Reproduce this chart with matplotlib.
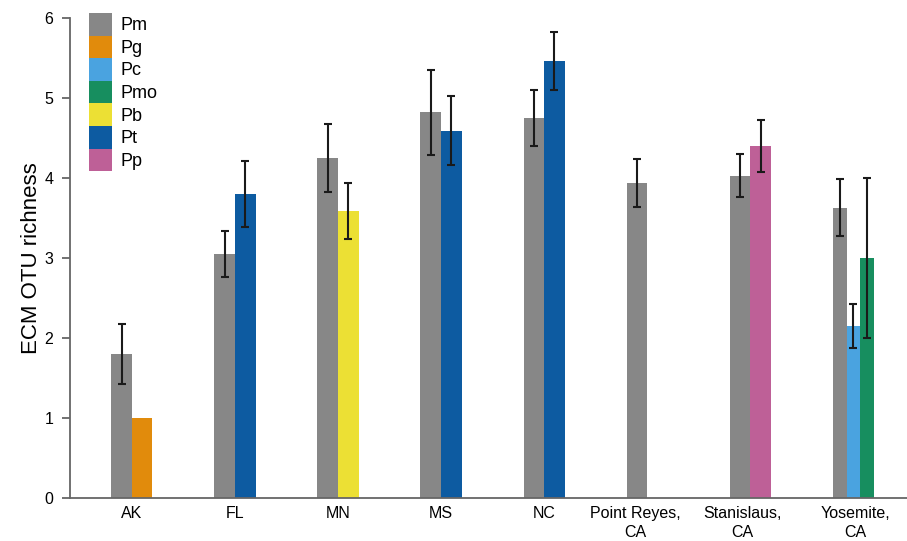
import matplotlib
matplotlib.use("Agg")
import matplotlib.pyplot as plt
from matplotlib.patches import Patch

plt.rcParams['font.family'] = ['Liberation Sans', 'DejaVu Sans']

sites = ["AK", "FL", "MN", "MS", "NC", "Point Reyes,\nCA", "Stanislaus,\nCA", "Yosemite,\nCA"]
species = ["Pm", "Pg", "Pc", "Pmo", "Pb", "Pt", "Pp"]
colors = {"Pm": "#878787", "Pg": "#E18B0C", "Pc": "#4AA3E0", "Pmo": "#178E5F",
          "Pb": "#ECE034", "Pt": "#0D5BA1", "Pp": "#BE6097"}

site_species = [["Pm", "Pg"], ["Pm", "Pt"], ["Pm", "Pb"], ["Pm", "Pt"], ["Pm", "Pt"],
                ["Pm"], ["Pm", "Pp"], ["Pm", "Pc", "Pmo"]]
site_means = [[1.80, 1.00], [3.05, 3.80], [4.25, 3.59], [4.82, 4.59], [4.75, 5.46],
              [3.94], [4.03, 4.40], [3.63, 2.15, 3.00]]
site_errs = [[0.375, None], [0.285, 0.41], [0.42, 0.35], [0.53, 0.43], [0.345, 0.36],
             [0.30], [0.265, 0.33], [0.355, 0.28, 1.00]]

# small horizontal shifts of the category labels, as in the reference
label_shift = [0, 0, 0, 0, 0, -0.12, -0.08, 0.02]

fig = plt.figure(figsize=(9.07, 5.41), dpi=100)
ax = fig.add_axes([70 / 907, 43 / 541, 1 - 70 / 907, 480 / 541])

group_w = 0.4
for i, (sps, means, errs) in enumerate(zip(site_species, site_means, site_errs)):
    n = len(sps)
    w = 0.2 if n <= 2 else group_w / n
    for k, (sp, m, e) in enumerate(zip(sps, means, errs)):
        x = i - group_w / 2 + w * (k + 0.5)
        ax.bar(x, m, width=w, color=colors[sp], edgecolor='none', zorder=2)
        if e is not None:
            ax.errorbar(x, m, yerr=e, fmt='none', ecolor='#1a1a1a', elinewidth=1.5,
                        capsize=3, capthick=1.5, zorder=3)

ax.set_xlim(-0.6, 7.52)
ax.set_ylim(0, 6)
ax.set_yticks([0, 1, 2, 3, 4, 5, 6])
ax.set_xticks([i + s for i, s in enumerate(label_shift)])
ax.set_xticklabels(sites, fontsize=11.5, ha='center', va='top', linespacing=1.32)
ax.tick_params(axis='x', length=0, pad=6)
ax.tick_params(axis='y', direction='out', length=6, width=1.3, color='#666666',
               labelsize=11.5, pad=6)
for s in ['top', 'right']:
    ax.spines[s].set_visible(False)
for s in ['left', 'bottom']:
    ax.spines[s].set_color('#666666')
    ax.spines[s].set_linewidth(1.3)
ax.set_ylabel("ECM OTU richness", fontsize=16, labelpad=2)

handles = [Patch(facecolor=colors[s], edgecolor='none', label=s) for s in species]
fig.legend(handles=handles, loc='upper left', bbox_to_anchor=(89 / 907, 1 - 13 / 541),
           frameon=False, fontsize=13, labelspacing=0, handleheight=1.55,
           handlelength=1.28, handletextpad=0.45, borderpad=0, borderaxespad=0)

fig.savefig("out.png", dpi=100)
